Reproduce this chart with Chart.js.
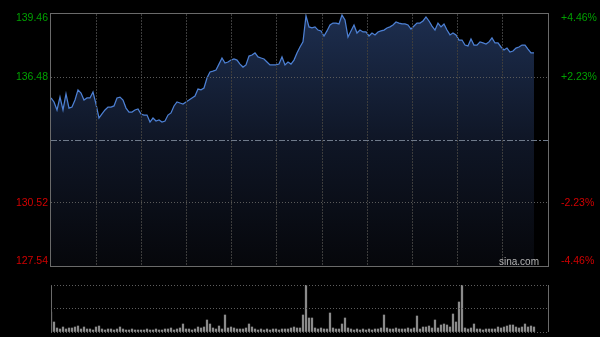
<!DOCTYPE html>
<html>
<head>
<meta charset="utf-8">
<script src="https://cdn.jsdelivr.net/npm/chart.js@4.4.1/dist/chart.umd.min.js"></script>
<style>
    html, body { margin: 0; padding: 0; background: #000; }
    #wrap { position: relative; width: 600px; height: 337px; overflow: hidden; }
    #priceChart { position: absolute; left: 0; top: 0; }
    #volChart { position: absolute; left: 0; top: 275px; }
    #brand { position: absolute; left: 499px; top: 256px; font: 10px "Liberation Sans", Arial, sans-serif; color: #b4b4b4; }
</style>
</head>
<body>
<div id="wrap">
    <canvas id="priceChart" width="600" height="270"></canvas>
    <canvas id="volChart" width="600" height="62"></canvas>
    <div id="brand">sina.com</div>
</div>
<script>
// price per time slot
const prices = [
    135.49, 135.30, 134.92, 135.53, 134.92, 135.68, 135.01, 135.06, 135.39, 135.87,
    135.72, 135.39, 135.49, 135.49, 135.77, 135.20, 134.54, 134.73, 134.92, 135.06,
    135.06, 135.11, 135.49, 135.53, 135.39, 135.01, 134.82, 134.82, 134.92, 134.97,
    134.73, 134.68, 134.68, 134.35, 134.54, 134.40, 134.45, 134.35, 134.40, 134.68,
    134.78, 135.11, 135.30, 135.25, 135.20, 135.30, 135.39, 135.49, 135.58, 135.91,
    135.87, 135.96, 136.43, 136.72, 136.76, 136.81, 137.09, 137.38, 137.14, 137.19,
    137.28, 137.33, 137.28, 137.09, 136.95, 137.05, 137.47, 137.52, 137.62, 137.43,
    137.38, 137.33, 137.19, 137.05, 137.05, 137.05, 137.09, 137.43, 137.05, 137.19,
    137.09, 137.28, 137.62, 137.90, 138.14, 139.37, 138.85, 138.80, 138.85, 138.70,
    138.66, 138.42, 138.66, 138.94, 139.03, 139.03, 138.99, 139.41, 139.18, 138.37,
    138.66, 138.94, 138.56, 138.70, 138.61, 138.61, 138.42, 138.56, 138.47, 138.61,
    138.66, 138.70, 138.80, 138.85, 138.94, 139.08, 139.03, 138.99, 138.99, 138.94,
    138.75, 138.89, 139.03, 139.03, 139.13, 139.32, 139.13, 138.89, 138.70, 139.03,
    138.85, 138.99, 138.70, 138.47, 138.56, 138.47, 138.23, 138.23, 137.99, 137.95,
    138.28, 137.99, 137.99, 138.14, 138.09, 138.04, 138.14, 138.33, 138.09, 138.09,
    137.90, 137.76, 137.85, 137.66, 137.71, 137.85, 137.90, 137.99, 137.99, 137.80,
    137.62, 137.62
];
// volume per time slot
const volumes = [
    20, 10, 4, 3, 5, 3, 4, 4, 5, 6, 3, 5, 3, 3, 2, 5, 6, 3, 2, 3,
    3, 2, 3, 5, 3, 2, 2, 3, 2, 2, 2, 2, 3, 2, 2, 3, 2, 2, 3, 3,
    4, 2, 3, 4, 8, 3, 3, 2, 3, 5, 4, 5, 12, 8, 4, 3, 6, 3, 17, 4,
    5, 4, 3, 3, 3, 4, 8, 5, 3, 2, 3, 2, 3, 2, 3, 3, 2, 3, 3, 3,
    4, 5, 4, 4, 17, 47, 14, 14, 4, 3, 4, 3, 3, 19, 4, 3, 3, 8, 14, 4,
    3, 2, 3, 2, 3, 2, 3, 2, 3, 3, 4, 17, 4, 3, 3, 4, 3, 3, 3, 4,
    3, 4, 16, 3, 5, 5, 6, 4, 12, 4, 7, 8, 7, 5, 18, 10, 30, 47, 4, 3,
    4, 8, 3, 3, 2, 3, 3, 3, 3, 5, 4, 5, 6, 7, 7, 5, 4, 5, 8, 5,
    6, 5
];
const prevClose = 133.50;
const priceTicks = [127.54, 130.52, 133.50, 136.48, 139.46];
const pctTicks = [-4.46, -2.23, 0, 2.23, 4.46];
const pctLabels = ['-4.46%', '-2.23%', '', '+2.23%', '+4.46%'];
const totalSlots = 165.67;   // full session width in slots
const volMax = 47;

const green = '#00a000';
const red = '#d20000';
const font = { family: '"Liberation Sans", Arial, sans-serif', size: 10.5 };

// nudge the outer labels inside the frame like the original
function nudged(list, d) {
    return list.map((v, i) => ({ value: i === 0 ? v + d : (i === list.length - 1 ? v - d : v) }));
}

const frame = {
    id: 'frame',
    afterDraw(chart) {
        const a = chart.chartArea, c = chart.ctx;
        c.save();
        c.strokeStyle = '#6a6a6a';
        c.lineWidth = 1;
        c.strokeRect(a.left - 0.5, a.top - 0.5, a.right - a.left + 1, a.bottom - a.top + 1);
        c.restore();
    }
};

new Chart(document.getElementById('priceChart'), {
    type: 'line',
    data: {
        datasets: [{
            data: prices.map((p, i) => ({ x: i, y: p })),
            borderColor: '#4d80d4',
            borderWidth: 1.25,
            pointRadius: 0,
            tension: 0,
            fill: 'start',
            backgroundColor: function (context) {
                const { ctx, chartArea } = context.chart;
                if (!chartArea) return null;
                const g = ctx.createLinearGradient(0, chartArea.top, 0, chartArea.bottom);
                g.addColorStop(0, '#1d2e4f');
                g.addColorStop(0.5, '#0f1626');
                g.addColorStop(1, '#06070b');
                return g;
            }
        }]
    },
    options: {
        responsive: false,
        animation: false,
        layout: { padding: { top: 14, bottom: 4 } },
        plugins: { legend: { display: false }, tooltip: { enabled: false } },
        scales: {
            x: {
                type: 'linear',
                min: 0,
                max: totalSlots,
                afterBuildTicks: s => { s.ticks = Array.from({ length: 12 }, (_, i) => ({ value: i * totalSlots / 11 })); },
                afterFit: s => { s.height = 0; s.paddingLeft = 0; s.paddingRight = 0; },
                ticks: { display: false },
                grid: {
                    z: 1,
                    drawTicks: false,
                    color: ctx => (ctx.index === 0 || ctx.index === 11) ? 'rgba(0,0,0,0)' : '#3c3c3c'
                },
                border: { display: false, dash: [2, 1] }
            },
            y: {
                position: 'left',
                min: priceTicks[0],
                max: priceTicks[4],
                afterBuildTicks: s => { s.ticks = nudged(priceTicks, 0.21); },
                afterFit: s => { s.width = 51; s.paddingTop = 0; s.paddingBottom = 0; },
                ticks: {
                    padding: 3,
                    font: font,
                    color: ctx => ctx.index > 2 ? green : red,
                    callback: (v, i) => i === 2 ? '' : priceTicks[i].toFixed(2)
                },
                grid: {
                    z: 1,
                    drawTicks: false,
                    color: ctx => {
                        if (ctx.index === 2) return '#6f7a8a';
                        if (ctx.index === 1 || ctx.index === 3) return '#5a5a5a';
                        return 'rgba(0,0,0,0)';
                    }
                },
                border: { display: false, dash: ctx => ctx.index === 2 ? [6, 2, 2, 2] : [1, 2] }
            },
            y1: {
                position: 'right',
                min: pctTicks[0],
                max: pctTicks[4],
                afterBuildTicks: s => { s.ticks = nudged(pctTicks, 0.21 * 4.46 / (priceTicks[4] - prevClose)); },
                afterFit: s => { s.width = 52; s.paddingTop = 0; s.paddingBottom = 0; },
                ticks: {
                    padding: 5,
                    font: font,
                    color: ctx => ctx.index > 2 ? green : red,
                    callback: (v, i) => pctLabels[i]
                },
                grid: { display: false },
                border: { display: false }
            }
        }
    },
    plugins: [frame]
});

new Chart(document.getElementById('volChart'), {
    type: 'bar',
    data: {
        datasets: [{
            data: volumes.map((v, i) => ({ x: i, y: v })),
            backgroundColor: '#8a8a8a',
            barThickness: 1.6,
            borderWidth: 0
        }]
    },
    options: {
        responsive: false,
        animation: false,
        layout: { padding: { top: 10, bottom: 5 } },
        plugins: { legend: { display: false }, tooltip: { enabled: false } },
        scales: {
            x: {
                type: 'linear',
                min: 0,
                max: totalSlots,
                offset: false,
                afterBuildTicks: s => { s.ticks = [{ value: 0 }, { value: totalSlots }]; },
                afterFit: s => { s.height = 0; s.paddingLeft = 0; s.paddingRight = 0; },
                ticks: { display: false },
                grid: { z: 1, drawTicks: false, color: '#6a6a6a', offset: false },
                border: { display: false }
            },
            y: {
                min: 0,
                max: volMax,
                afterBuildTicks: s => { s.ticks = [{ value: 0 }, { value: volMax / 2 }, { value: volMax }]; },
                afterFit: s => { s.width = 51; s.paddingTop = 0; s.paddingBottom = 0; },
                ticks: { display: false },
                grid: { z: 1, drawTicks: false, color: '#5e5e5e' },
                border: { display: false, dash: [1, 2] }
            },
            y1: {
                position: 'right',
                afterFit: s => { s.width = 52; },
                ticks: { display: false },
                grid: { display: false },
                border: { display: false }
            }
        }
    }
});
</script>
</body>
</html>
